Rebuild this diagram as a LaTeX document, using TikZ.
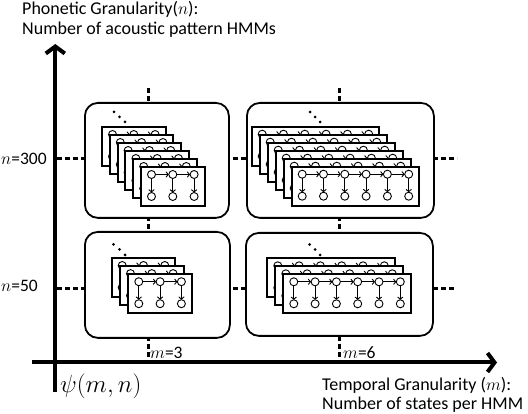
\documentclass[tikz,border=0pt]{standalone}
\usepackage{fontspec}
\setmainfont{Carlito}
\usetikzlibrary{arrows.meta}
\tikzset{
  axisline/.style={line width=4pt, -{Straight Barb[length=7pt,width=19pt]}},
  gridline/.style={line width=3pt, dash pattern=on 5pt off 3pt},
  panel/.style={draw, line width=1.8pt, rounded corners=13pt, fill=white, anchor=north west, inner sep=0pt},
  card/.style={draw, line width=1.9pt, fill=white},
  hstate/.style={circle, draw, line width=0.9pt, minimum size=8pt, inner sep=0pt, fill=white},
  htrans/.style={line width=0.9pt, -{To[length=3pt,width=6pt]}, shorten <=-0.3pt, shorten >=-0.3pt},
  dotmark/.style={circle, fill, minimum size=3pt, inner sep=0pt},
  lab/.style={font=\fontsize{18}{21}\selectfont, inner sep=0pt},
  tick/.style={font=\fontsize{17.5}{20}\selectfont, inner sep=0pt},
}
% card: x, y (top-left), columns, name
\newcommand\hmmcard[4]{%
  \pgfmathsetmacro\cw{21+(#3-1)*21.3}%
  \draw[card] ({#1},{#2}) rectangle ++(\cw,39);
  \foreach \j in {1,...,#3}{%
    \node[hstate] (#4a\j) at ({#1+10.5+(\j-1)*21.3},{#2+7.5}) {};
    \node[hstate] (#4b\j) at ({#1+10.5+(\j-1)*21.3},{#2+29.5}) {};
    \draw[htrans] (#4a\j) -- (#4b\j);
  }
  \foreach \j in {2,...,#3}{%
    \pgfmathtruncatemacro\i{\j-1}%
    \draw[htrans] (#4a\i) -- (#4a\j);
  }
}
% stack: name, x0, y0, dx, dy, ncards, columns
\newcommand\hmmstack[7]{%
  \foreach \c in {1,...,#6}{%
    \hmmcard{#2+(\c-1)*#4}{#3+(\c-1)*#5}{#7}{#1\c}
  }
}
\begin{document}
\begin{tikzpicture}[x=1pt,y=-1pt]
\useasboundingbox (0,0) rectangle (528,414);
% grid coordinates
\coordinate (h300a) at (57,159);  \coordinate (h300b) at (457,159);
\coordinate (h50a)  at (57,289);  \coordinate (h50b)  at (455,289);
\coordinate (v3a)   at (148,88);  \coordinate (v3b)   at (148,362);
\coordinate (v6a)   at (339,88);  \coordinate (v6b)   at (339,362);
\draw[gridline] (h300a) -- (h300b);
\draw[gridline] (h50a) -- (h50b);
\draw[gridline] (v3a) -- (v3b);
\draw[gridline] (v6a) -- (v6b);
% panels
\node[panel, minimum width=144pt, minimum height=115pt] (TL) at (84,102) {};
\node[panel, minimum width=187pt, minimum height=115pt] (TR) at (246,102) {};
\node[panel, minimum width=145pt, minimum height=106pt] (BL) at (84,231) {};
\node[panel, minimum width=187pt, minimum height=103pt] (BR) at (245,232) {};
% stacks
\hmmstack{tl}{102}{127}{7.8}{8}{6}{3}
\hmmstack{tr}{251.7}{126.7}{8}{8}{6}{6}
\hmmstack{bl}{111.7}{258}{8.3}{8.1}{3}{3}
\hmmstack{br}{267.3}{258.3}{8}{8}{3}{6}
% ellipsis dots
\node[dotmark] (tld1) at (114,112) {}; \node[dotmark] (tld2) at (119.5,117) {}; \node[dotmark] (tld3) at (125,122) {};
\node[dotmark] (trd1) at (310,112) {}; \node[dotmark] (trd2) at (315,117) {}; \node[dotmark] (trd3) at (320,122) {};
\node[dotmark] (bld1) at (113.5,244.5) {}; \node[dotmark] (bld2) at (119.5,249.5) {}; \node[dotmark] (bld3) at (125,255) {};
\node[dotmark] (brd1) at (309.5,244.5) {}; \node[dotmark] (brd2) at (315,249.5) {}; \node[dotmark] (brd3) at (320,255) {};
% axes
\coordinate (yb) at (55.3,392); \coordinate (yt) at (55.3,44);
\coordinate (xl) at (32,362.5); \coordinate (xr) at (497,362.5);
\draw[axisline] (yb) -- (yt);
\draw[axisline] (xl) -- (xr);
% labels
\node[lab, anchor=base west] (ylab1) at (22,15) {Phonetic Granularity($n$):};
\node[lab, anchor=base west] (ylab2) at (22,35) {Number of acoustic pattern HMMs};
\node[tick, anchor=base west] (n300) at (1,165) {$n$=300};
\node[tick, anchor=base west] (n50) at (1,292) {$n$=50};
\node[tick, anchor=base west] (m3) at (150,359) {$m$=3};
\node[tick, anchor=base west] (m6) at (343,359) {$m$=6};
\node[inner sep=0pt, anchor=base west, font=\fontsize{25}{28}\selectfont] (psi) at (60,392) {$\psi(m,n)$};
\node[lab, anchor=base west] (xlab1) at (322,391) {Temporal Granularity ($m$):};
\node[lab, anchor=base west] (xlab2) at (322,409) {Number of states per HMM};
\end{tikzpicture}
\end{document}
